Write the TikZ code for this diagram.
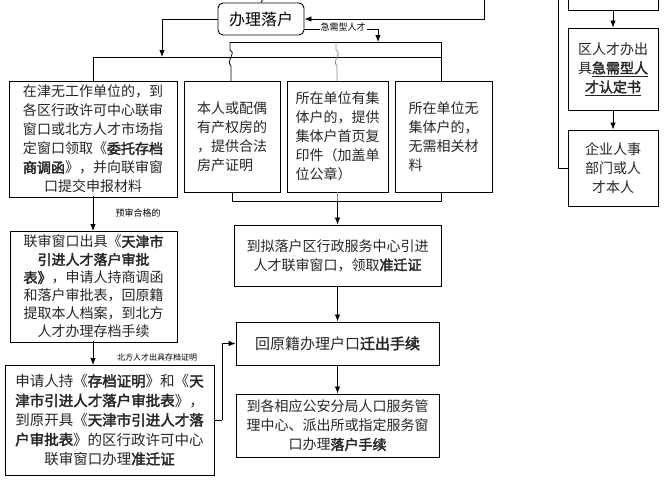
\documentclass[tikz,border=0pt]{standalone}
\usepackage{fontspec}
\setmainfont{Noto Sans CJK SC}[AutoFakeBold=2.5]
\usetikzlibrary{arrows.meta}
\begin{document}
\begin{tikzpicture}[x=1pt,y=-1pt,
  box/.style={draw,line width=0.9pt,inner sep=2pt,text=black!85,font=\fontsize{14}{19}\selectfont},
  lab/.style={font=\fontsize{8}{9}\selectfont,inner sep=1pt},
  arr/.style={-{Latex[length=7pt,width=5.5pt]},line width=0.8pt},
  ln/.style={line width=0.8pt},
  gln/.style={line width=0.8pt,draw=black!45}]
\useasboundingbox (0,0) rectangle (666,479);
% left column connectors drawn first
\coordinate (v1) at (93,196);
\coordinate (v2) at (93,231);
\coordinate (v3) at (93,341);
\coordinate (v4) at (93,365);
\draw[arr,draw=black] (v1) -- (v2);
\draw[arr,draw=black] (v3) -- (v4);
% top
\node[box,rounded corners=5pt,minimum width=86pt,minimum height=32pt,text=black,font=\fontsize{16}{18}\selectfont] (top) at (261,19) {办理落户};
\coordinate (t0) at (265,-5);
\draw[ln] (t0) -- (top.north);
\coordinate (r0) at (484,-5);
\draw[arr] (r0) |- (top.east);
% right column
\node[box,minimum width=90pt,minimum height=24pt] (R0) at (613,-2) {};
\node[box,minimum width=90pt,minimum height=82pt,align=center] (R1) at (613,69) {区人才办出\\具\underline{\textbf{急需型人}}\\\underline{\textbf{才认定书}}};
\node[box,minimum width=90pt,minimum height=76pt,align=center] (R2) at (613,168) {企业人事\\部门或人\\才本人};
\draw[arr] (R0.south) -- (R1.north);
\draw[arr] (R1.south) -- (R2.north);
\coordinate (l0) at (558,-5);
\draw[ln] (l0) |- (R2.west);
% row 1
\node[box,minimum width=168pt,minimum height=116pt,align=center] (B1) at (93,139) {在津无工作单位的，到\\各区行政许可中心联审\\窗口或北方人才市场指\\定窗口领取《\textbf{委托存档}\\\textbf{商调函}》，并向联审窗\\口提交申报材料};
\node[box,minimum width=96pt,minimum height=111pt,align=left] (B2) at (232,136.5) {本人或配偶\\有产权房的\\，提供合法\\房产证明};
\node[box,minimum width=101pt,minimum height=111pt,align=left] (B3) at (337.5,136.5) {所在单位有集\\体户的，提供\\集体户首页复\\印件（加盖单\\位公章）};
\node[box,minimum width=97pt,minimum height=111pt,align=left] (B4) at (443.5,136.5) {所在单位无\\集体户的，\\无需相关材\\料};
\coordinate (a0) at (162,57);
\draw[arr] (top.west) -| (a0);
\coordinate (h1) at (93,57);
\coordinate (h4) at (441,57);
\draw[ln] (h1) -- (h4);
\draw[ln] (h1) -- (B1.north);
\draw[ln] (h4) -- (h4 |- B4.north);
\coordinate (e1) at (304,29);
\coordinate (e2) at (378,29);
\coordinate (e3) at (378,42);
\draw[ln] (e1) -- (e2);
\draw[arr] (e2) -- (e3);
\node[lab,fill=white,font=\fontsize{9}{10}\selectfont] (el) at (343,27) {急需型人才};
\coordinate (u1) at (230,42);
\coordinate (u2) at (441,42);
\draw[ln] (u1) -- (u2) -- (h4);
\draw[ln] (u1) -- (230,50) .. controls (237,54) and (225,60) .. (231,66) -- (231,81);
\coordinate (g1) at (336,42);
\draw[gln] (g1) -- (336,50) .. controls (343,54) and (331,60) .. (337,66) -- (337,81);
% merge below
\coordinate (m2) at (232,201);
\coordinate (m3) at (337.5,201);
\coordinate (m4) at (441,201);
\draw[ln] (m2 |- B2.south) -- (m2) -- (m4) -- (m4 |- B4.south);
\draw[gln] (B3.south) -- (m3);
% middle column
\node[box,minimum width=207pt,minimum height=61pt,align=center] (B7) at (337.5,255.5) {到拟落户区行政服务中心引进\\人才联审窗口，领取\textbf{准迁证}};
\node[box,minimum width=203pt,minimum height=43pt,font=\fontsize{15}{19}\selectfont] (B8) at (337.5,343.5) {回原籍办理户口\textbf{迁出手续}};
\node[box,minimum width=203pt,minimum height=63pt,align=center] (B9) at (337.5,425.5) {到各相应公安分局人口服务管\\理中心、派出所或指定服务窗\\口办理\textbf{落户手续}};
\draw[arr] (m3) -- (B7.north);
\draw[arr] (B7.south) -- (B8.north);
\draw[arr] (B8.south) -- (B9.north);
% left column
\node[box,minimum width=167pt,minimum height=111pt,align=center,font=\fontsize{14}{18}\selectfont] (B5) at (93.5,286.5) {联审窗口出具《\textbf{天津市}\\\textbf{引进人才落户审批}\\\textbf{表》}，申请人持商调函\\和落户审批表，回原籍\\提取本人档案，到北方\\人才办理存档手续};
\node[box,minimum width=209pt,minimum height=110pt,align=center,font=\fontsize{14.5}{19.5}\selectfont] (B6) at (109.5,420) {申请人持《\textbf{存档证明}》和《\textbf{天}\\\textbf{津市引进人才落户审批表}》，\\到原开具《\textbf{天津市引进人才落}\\\textbf{户审批表}》的区行政许可中心\\联审窗口办理\textbf{准迁证}};
\node[lab,font=\fontsize{9}{10}\selectfont] (L1) at (138,213) {预审合格的};
\node[lab] (L2) at (157,357) {北方人才出具存档证明};
\coordinate (c1) at (222,420);
\draw[ln] (B6.east |- c1) -- (c1);
\draw[arr] (c1) |- (B8.west);
\end{tikzpicture}
\end{document}
